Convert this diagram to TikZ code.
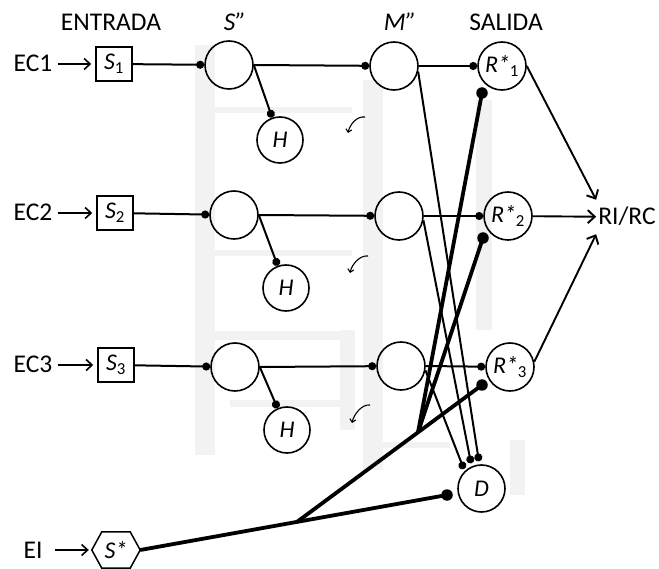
\documentclass[tikz,border=0pt]{standalone}
\usepackage{fontspec}
\setmainfont{Carlito}
\usetikzlibrary{arrows.meta,calc}
\begin{document}
\begin{tikzpicture}[x=1pt,y=-1pt,
  lbl/.style={font=\fontsize{25.5}{30}\selectfont, inner sep=2pt, text height=16pt, text depth=0pt},
  circ/.style={draw, circle, line width=1.6pt, minimum size=48pt, inner sep=0pt, font=\fontsize{24}{28}\selectfont\itshape},
  hcirc/.style={circ, minimum size=46pt},
  sbox/.style={draw, line width=1.5pt, minimum width=36pt, minimum height=34pt, inner sep=0pt, font=\fontsize{24}{28}\selectfont},
  wire/.style={line width=2pt},
  heavy/.style={line width=3.8pt},
  dotend/.style={-{Circle[length=8pt]}},
  bigdot/.style={circle, fill, inner sep=0pt, minimum size=11.5pt},
  inarrow/.style={line width=1.6pt, -{Straight Barb[length=6pt,width=11pt]}},
  outarrow/.style={line width=1.9pt, -{Straight Barb[length=7pt,width=13pt]}},
  curv/.style={line width=1.1pt, -{Straight Barb[length=3pt,width=6pt]}},
  shade/.style={fill=black!5, draw=none}
]
\useasboundingbox (0,0) rectangle (659,569);

% faint grey background regions of the original
\fill[shade] (195,45) rectangle (215,455);
\fill[shade] (363,80) rectangle (383,470);
\fill[shade] (213,107) rectangle (352,113);
\fill[shade] (213,250) rectangle (352,256);
\fill[shade] (213,331) rectangle (355,340);
\fill[shade] (230,400) rectangle (352,407);
\fill[shade] (340,330) rectangle (355,430);
\fill[shade] (476,100) rectangle (492,330);
\fill[shade] (510,440) rectangle (525,495);
\fill[shade] (365,442) rectangle (450,448);

% headers
\node[lbl] at (111,23) {ENTRADA};
\node[lbl] at (235,23) {\itshape S"};
\node[lbl] at (400,23) {\itshape M"};
\node[lbl] at (506,23) {SALIDA};

% inputs
\node[lbl] (EC1) at (33,64) {EC1};
\node[lbl] (EC2) at (33,213) {EC2};
\node[lbl] (EC3) at (33,365) {EC3};
\node[lbl] (EI) at (33,550) {EI};

\node[sbox] (S1) at (114,64) {\textit{S}\textsubscript{1}};
\node[sbox] (S2) at (115,213) {\textit{S}\textsubscript{2}};
\node[sbox] (S3) at (116,365) {\textit{S}\textsubscript{3}};

\node[inner sep=0pt, minimum width=48pt, minimum height=36pt, font=\fontsize{24}{28}\selectfont\itshape] (Sst) at (116,550) {S*};
\draw[line width=1.5pt] (Sst.west) -- ([xshift=10pt]Sst.north west) -- ([xshift=-10pt]Sst.north east)
  -- (Sst.east) -- ([xshift=-10pt]Sst.south east) -- ([xshift=10pt]Sst.south west) -- cycle;

% S'' column
\node[circ] (A1) at (229,65) {};
\node[circ] (A2) at (234,215) {};
\node[circ] (A3) at (235,367) {};
% H
\node[hcirc] (H1) at (280,140) {H};
\node[hcirc] (H2) at (286,288) {H};
\node[hcirc] (H3) at (287,430) {H};
% M'' column
\node[circ] (M1) at (394,66) {};
\node[circ] (M2) at (399,216) {};
\node[circ] (M3) at (401,366) {};
% outputs
\node[circ] (R1) at (502,66) {R*\textsubscript{\upshape 1}};
\node[circ] (R2) at (508,216) {R*\textsubscript{\upshape 2}};
\node[circ] (R3) at (510,367) {R*\textsubscript{\upshape 3}};
\node[circ, minimum size=47pt] (D) at (481.5,488.5) {D};
\node[lbl, inner ysep=9pt] (RC) at (627,217) {RI/RC};

% input arrows
\draw[inarrow, shorten <=3pt, shorten >=4pt] (EC1) -- (S1);
\draw[inarrow, shorten <=3pt, shorten >=4pt] (EC2) -- (S2);
\draw[inarrow, shorten <=3pt, shorten >=4pt] (EC3) -- (S3);
\draw[inarrow, shorten <=10pt, shorten >=3pt] (EI) -- (Sst);

% thin wires
\foreach \i in {1,2,3}{
  \draw[wire, dotend] (S\i) -- (A\i);
  \draw[wire, dotend] (A\i.east) -- (M\i);
  \draw[wire, dotend] (A\i.east) -- (H\i);
  \draw[wire, dotend] (M\i.east) -- (R\i);
}
\draw[wire, dotend, shorten >=3pt] (M1.-13) -- (D.95);
\draw[wire, dotend, shorten >=3pt] (M2.-10) -- (D.114);
\draw[wire, dotend, shorten >=2pt] (M3.-10) -- (D.134);

% output arrows
\draw[outarrow] (R1.east) -- (RC.north west);
\draw[outarrow] (R2) -- (RC);
\draw[outarrow] (R3.12) -- (RC.south west);

% heavy lines from S*
\node[bigdot] (dD) at (447,495) {};
\node[bigdot] (dR1) at (482,93) {};
\node[bigdot] (dR2) at (483,238) {};
\node[bigdot] (dR3) at (482,385) {};
\coordinate (B1) at ($(Sst.east)!0.511!(dD.center)$);
\coordinate (B2) at ($(B1)!0.654!(dR3.center)$);
\draw[heavy] (Sst.east) -- (dD.center);
\draw[heavy] (B1) -- (dR3.center);
\draw[heavy] (B2) -- (dR2.center);
\draw[heavy] (B2) -- (dR1.center);

% small curved arrows
\draw[curv] (365,117) .. controls (357,116) and (350,124) .. (348,133);
\draw[curv] (368,256) .. controls (360,255) and (352,264) .. (350,273);
\draw[curv] (370,405) .. controls (362,404) and (354,414) .. (352,423);
\end{tikzpicture}
\end{document}
